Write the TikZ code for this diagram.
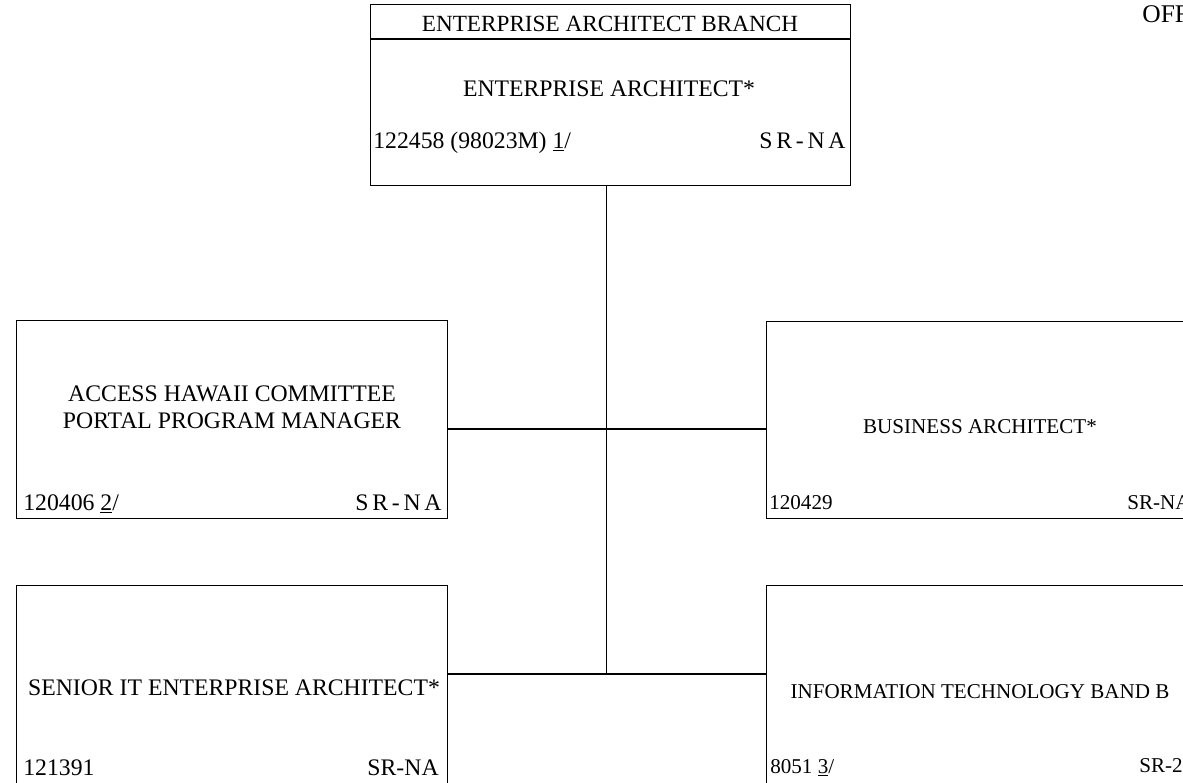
\documentclass[tikz,border=0pt]{standalone}
\usepackage{fontspec}
\setmainfont{Liberation Serif}
\usepackage{tikz}
\usetikzlibrary{positioning, calc}
\newcommand{\chartfont}{\fontsize{13.5}{15.3}\selectfont}
\newcommand{\smallchart}{\fontsize{12}{14}\selectfont}
\newcommand{\spgrade}[1]{{\addfontfeature{LetterSpace=16}#1}}
\tikzset{
  post/.style={rectangle, draw=black, line width=0.8pt, inner sep=0pt, anchor=north west},
  conn/.style={draw=black, line width=0.8pt},
  ttl/.style={font=\chartfont, inner sep=0pt, anchor=base, align=center},
  posnum/.style={font=\chartfont, inner sep=0pt, anchor=base west},
  grd/.style={font=\chartfont, inner sep=0pt, anchor=base east},
  rside/.style={font=\smallchart}
}
\begin{document}
\begin{tikzpicture}[x=0.02cm, y=-0.02cm]
  \useasboundingbox (0,0) rectangle (1183,782);
  % position boxes
  \node[post, minimum width=9.6cm, minimum height=3.62cm] (branch) at (370,4) {};
  \node[post, minimum width=8.62cm, minimum height=3.96cm] (access) at (16,320) {};
  \node[post, minimum width=8.58cm, minimum height=3.94cm] (busarch) at (766,321) {};
  \node[post, minimum width=8.62cm, minimum height=4.3cm] (senior) at (16,585) {};
  \node[post, minimum width=8.58cm, minimum height=4.3cm] (itband) at (766,585) {};
  \draw[conn] ($(branch.north west)+(0,35)$) -- ($(branch.north east)+(0,35)$);
  % texts
  \node[ttl, anchor=base west, font=\fontsize{14.5}{16}\selectfont] (office) at (1142,22) {OFF};
  \node[ttl, font=\fontsize{13.2}{15}\selectfont] (bname) at (610,31) {ENTERPRISE ARCHITECT BRANCH};
  \node[ttl] (eatitle) at (609,96) {ENTERPRISE ARCHITECT*};
  \node[posnum] (eanum) at (373,148) {122458 (98023M) \underline{1}/};
  \node[grd] (eagrd) at (846,148) {\spgrade{SR-NA}};
  \node[ttl] (actitle) at (232,428) {ACCESS HAWAII COMMITTEE\\PORTAL PROGRAM MANAGER};
  \node[posnum] (acnum) at (23,510) {120406 \underline{2}/};
  \node[grd] (acgrd) at (442,510) {\spgrade{SR-NA}};
  \node[ttl, rside] (batitle) at (980,433) {BUSINESS ARCHITECT*};
  \node[posnum, rside] (banum) at (769,509) {120429};
  \node[posnum, rside] (bagrd) at (1127,509) {SR-NA};
  \node[ttl] (sntitle) at (234,695) {SENIOR IT ENTERPRISE ARCHITECT*};
  \node[posnum] (snnum) at (23,775) {121391};
  \node[grd] (sngrd) at (439,775) {SR-NA};
  \node[ttl, rside] (ittitle) at (980,698) {INFORMATION TECHNOLOGY BAND B};
  \node[posnum, rside] (itnum) at (770,773) {8051 \underline{3}/};
  \node[posnum, rside] (itgrd) at (1139,772) {SR-22};
  % connectors
  \coordinate (trunk) at ([xshift=-0.08cm]branch.south);
  \coordinate (jb) at (senior.east |- 0,674);
  \draw[conn] (trunk) -- (trunk |- jb);
  \draw[conn] (access.east |- 0,429) -- (busarch.west |- 0,429);
  \draw[conn] (jb) -- (itband.west |- jb);
\end{tikzpicture}
\end{document}
